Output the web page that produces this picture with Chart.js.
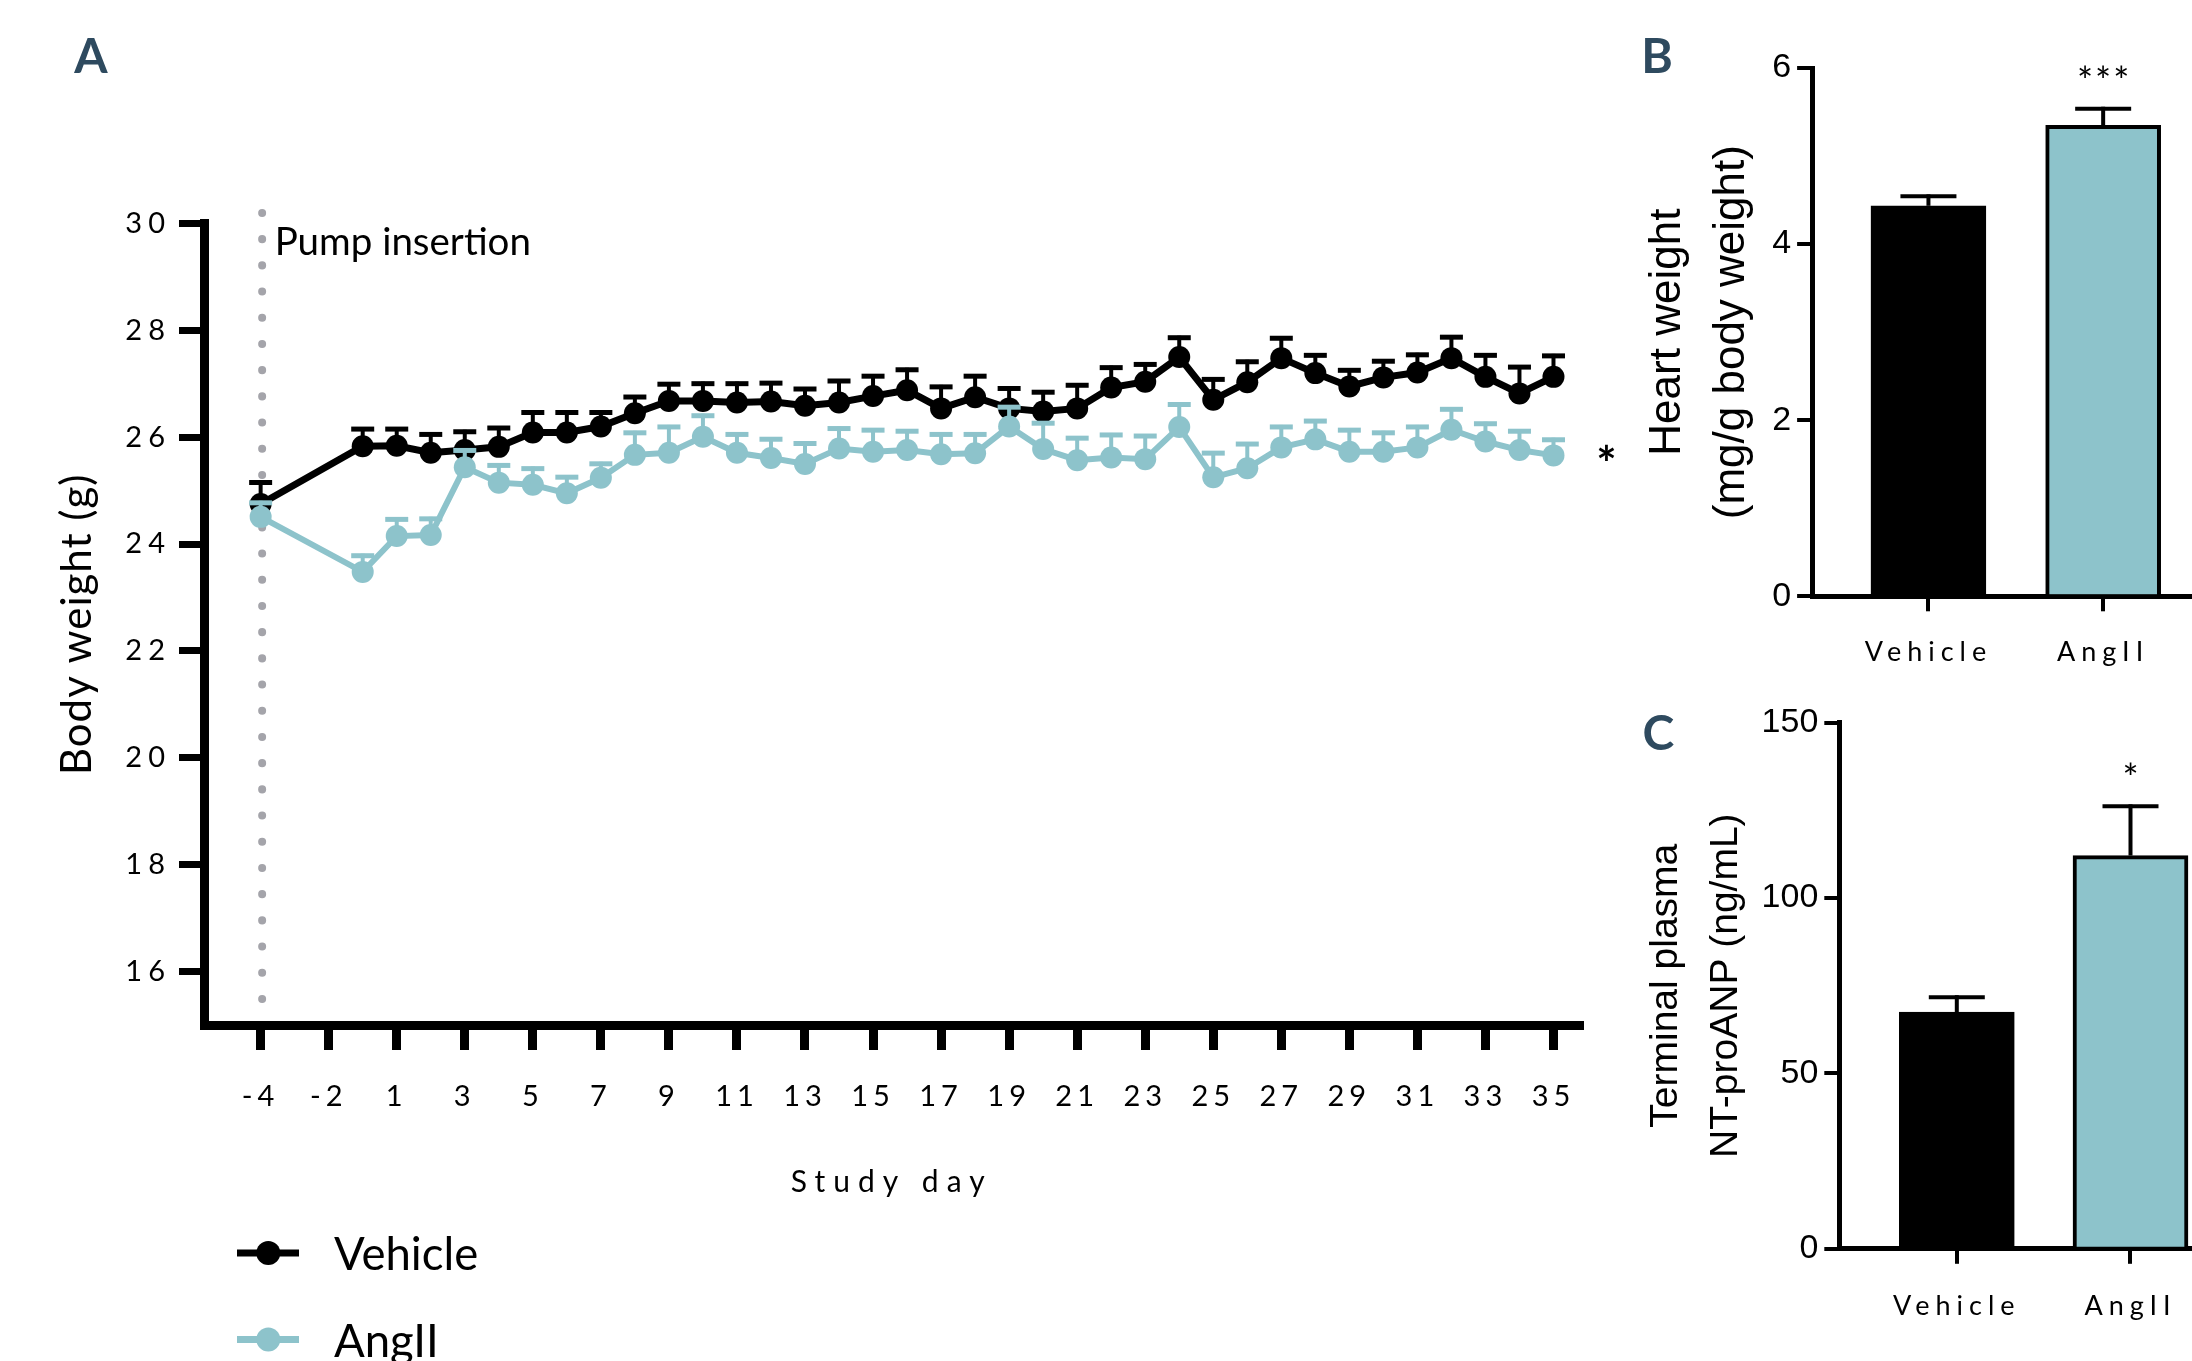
<!DOCTYPE html>
<html>
<head>
<meta charset="utf-8">
<script src="https://cdn.jsdelivr.net/npm/chart.js@4.4.1/dist/chart.umd.min.js"></script>
<style>
  html, body { margin: 0; padding: 0; background: #fff; }
  body { width: 2192px; height: 1361px; overflow: hidden; position: relative; }
  canvas { position: absolute; }
</style>
</head>
<body>
<canvas id="chartA" width="1630" height="1361" style="left:0;top:0"></canvas>
<canvas id="chartB" width="610" height="680" style="left:1630px;top:0"></canvas>
<canvas id="chartC" width="630" height="681" style="left:1630px;top:680px"></canvas>
<script>
// ---------------- DATA ----------------
// Panel A: evenly spaced x-axis slots (as drawn in the figure)
const axisDays = [-4, -3, -2, 0, 1, 2, 3, 4, 5, 6, 7, 8, 9, 10, 11, 12, 13, 14, 15, 16, 17,
  18, 19, 20, 21, 22, 23, 24, 25, 26, 27, 28, 29, 30, 31, 32, 33, 34, 35];
const xTickDays = [-4, -2, 1, 3, 5, 7, 9, 11, 13, 15, 17, 19, 21, 23, 25, 27, 29, 31, 33, 35];
const yTicksA = [16, 18, 20, 22, 24, 26, 28, 30];
const studyDays = [-4, 0, 1, 2, 3, 4, 5, 6, 7, 8, 9, 10, 11, 12, 13, 14, 15, 16, 17, 18, 19,
  20, 21, 22, 23, 24, 25, 26, 27, 28, 29, 30, 31, 32, 33, 34, 35];
const vehicleMean = [24.75, 25.83, 25.84, 25.71, 25.76, 25.82, 26.09, 26.09, 26.20, 26.45, 26.68,
  26.68, 26.65, 26.67, 26.59, 26.65, 26.77, 26.88, 26.54, 26.75, 26.54, 26.48, 26.54, 26.93, 27.04,
  27.50, 26.70, 27.03, 27.48, 27.20, 26.95, 27.12, 27.21, 27.48, 27.13, 26.82, 27.13];
const vehicleSEM = [0.44, 0.36, 0.35, 0.38, 0.38, 0.39, 0.41, 0.41, 0.30, 0.34, 0.35, 0.36, 0.39,
  0.38, 0.35, 0.44, 0.41, 0.42, 0.44, 0.43, 0.41, 0.40, 0.47, 0.41, 0.36, 0.40, 0.42, 0.42, 0.41,
  0.37, 0.34, 0.34, 0.37, 0.43, 0.44, 0.53, 0.43];
const angMean = [24.51, 23.48, 24.15, 24.17, 25.44, 25.15, 25.11, 24.95, 25.24, 25.67, 25.71,
  26.01, 25.71, 25.61, 25.50, 25.79, 25.73, 25.76, 25.68, 25.70, 26.20, 25.78, 25.57, 25.62, 25.59,
  26.19, 25.25, 25.42, 25.81, 25.96, 25.73, 25.73, 25.81, 26.14, 25.92, 25.76, 25.66];
const angSEM = [0.30, 0.34, 0.35, 0.34, 0.35, 0.36, 0.34, 0.34, 0.30, 0.45, 0.52, 0.43, 0.38, 0.39,
  0.42, 0.41, 0.44, 0.39, 0.41, 0.39, 0.40, 0.52, 0.45, 0.46, 0.47, 0.46, 0.49, 0.49, 0.42, 0.38,
  0.44, 0.39, 0.42, 0.42, 0.37, 0.39, 0.33];
const pumpDay = -4;
const seriesNames = ['Vehicle', 'AngII'];

// Panel B: heart weight
const groups = ['Vehicle', 'AngII'];
const heartMean = [4.435, 5.35];
const heartSEM = [0.13, 0.21];
const heartSig = ['', '***'];
const yTicksB = [0, 2, 4, 6];

// Panel C: NT-proANP
const anpMean = [67.5, 112.1];
const anpSEM = [4.8, 14.6];
const anpSig = ['', '*'];
const yTicksC = [0, 50, 100, 150];

// ---------------- STYLE ----------------
const BLACK = '#000000';
const TEAL = '#8dc3cb';
const LETTER = '#2e4a5f';
const SANS = 'Lato';
const ARIAL = '"Liberation Sans", Arial';

Chart.defaults.animation = false;
Chart.defaults.responsive = false;
Chart.defaults.devicePixelRatio = 1;
Chart.defaults.color = '#000';
Chart.defaults.plugins.legend.display = false;
Chart.defaults.plugins.tooltip.enabled = false;

// letter spacing for tick labels / titles per scale
const spacingPlugin = {
  id: 'spacing',
  beforeDraw(chart, args, opts) {
    for (const sc of Object.values(chart.scales)) {
      if (sc.__sp) continue;
      sc.__sp = true;
      const cfg = opts[sc.id] || {};
      const L = sc.drawLabels, T = sc.drawTitle;
      sc.drawLabels = function (a) { const c = this.ctx; c.save(); c.letterSpacing = (cfg.ticks || 0) + 'px'; L.call(this, a); c.restore(); };
      sc.drawTitle = function () { const c = this.ctx; c.save(); c.letterSpacing = (cfg.title || 0) + 'px'; T.call(this); c.restore(); };
    }
  }
};

function panelLetter(ctx, txt, x, y) {
  ctx.save();
  ctx.font = 'bold 48px ' + SANS;
  ctx.fillStyle = LETTER;
  ctx.textAlign = 'center';
  ctx.textBaseline = 'middle';
  ctx.fillText(txt, x, y);
  ctx.restore();
}

// ---------------- PANEL A ----------------
const slotOf = d => axisDays.indexOf(d);
const panelAPlugin = {
  id: 'panelA',
  beforeDatasetsDraw(chart) {
    const {ctx, scales: {x, y}} = chart;
    const px = x.getPixelForValue(slotOf(pumpDay)) + 1.5;
    ctx.save();
    ctx.strokeStyle = '#a4a4aa';
    ctx.lineWidth = 8;
    ctx.lineCap = 'round';
    ctx.setLineDash([0.1, 26.1]);
    ctx.beginPath();
    ctx.moveTo(px, 999);
    ctx.lineTo(px, 212);
    ctx.stroke();
    ctx.restore();
  },
  beforeDatasetDraw(chart, args) {
    const {ctx, scales: {x, y}} = chart;
    const ds = chart.data.datasets[args.index];
    ctx.save();
    ctx.strokeStyle = ds.borderColor;
    ds.data.forEach((p, i) => {
      const cx = x.getPixelForValue(p.x);
      const y0 = y.getPixelForValue(p.y);
      const y1 = y.getPixelForValue(p.y + ds.sem[i]);
      ctx.lineWidth = 4;
      ctx.beginPath(); ctx.moveTo(cx, y0); ctx.lineTo(cx, y1 ); ctx.stroke();
      ctx.lineWidth = 5;
      ctx.beginPath(); ctx.moveTo(cx - 11.5, y1 + 2); ctx.lineTo(cx + 11.5, y1 + 2); ctx.stroke();
    });
    ctx.restore();
  },
  afterDraw(chart) {
    const {ctx, scales: {x, y}} = chart;
    ctx.save();
    // pump insertion label
    ctx.font = '38.5px ' + SANS;
    ctx.fillStyle = '#000';
    ctx.textBaseline = 'alphabetic';
    ctx.fillText('Pump insertion', x.getPixelForValue(slotOf(pumpDay)) + 14, 255);
    // significance star
    const last = chart.data.datasets[1].data[chart.data.datasets[1].data.length - 1];
    ctx.font = 'bold 48px ' + SANS;
    ctx.textAlign = 'center';
    ctx.fillText('*', x.getPixelForValue(last.x) + 53, y.getPixelForValue(last.y) + 26);
    // legend
    chart.data.datasets.forEach((ds, i) => {
      const ly = 1253 + i * 86.5;
      ctx.strokeStyle = ds.borderColor;
      ctx.lineWidth = 7;
      ctx.beginPath(); ctx.moveTo(237, ly); ctx.lineTo(299, ly); ctx.stroke();
      ctx.fillStyle = ds.borderColor;
      ctx.beginPath(); ctx.arc(268.3, ly, 12, 0, Math.PI * 2); ctx.fill();
      ctx.fillStyle = '#000';
      ctx.font = '45.5px ' + SANS;
      ctx.textAlign = 'left';
      ctx.fillText(ds.label, 334, ly + 17);
    });
    ctx.restore();
    panelLetter(ctx, 'A', 91, 58);
  }
};

function seriesData(mean) {
  return studyDays.map((d, i) => ({x: slotOf(d), y: mean[i]}));
}

new Chart(document.getElementById('chartA'), {
  type: 'line',
  data: {
    datasets: [
      {label: seriesNames[0], data: seriesData(vehicleMean), sem: vehicleSEM, borderColor: BLACK,
       backgroundColor: BLACK, borderWidth: 7, pointRadius: 11, pointBorderWidth: 0,
       pointBackgroundColor: BLACK, tension: 0, order: 1, clip: false},
      {label: seriesNames[1], data: seriesData(angMean), sem: angSEM, borderColor: TEAL,
       backgroundColor: TEAL, borderWidth: 6, pointRadius: 11, pointBorderWidth: 0,
       pointBackgroundColor: TEAL, tension: 0, order: 0, clip: false}
    ]
  },
  options: {
    layout: {padding: {left: 0, top: 223.5, right: 1630 - 1579, bottom: 0}},
    scales: {
      x: {
        type: 'linear', min: -1.65, max: 38.75,
        afterBuildTicks: s => { s.ticks = xTickDays.map(d => ({value: slotOf(d)})); },
        afterFit: s => { s.height = 1361 - 1025; },
        ticks: {
          autoSkip: false, maxRotation: 0, minRotation: 0, padding: 29,
          font: {family: SANS, size: 29},
          callback: v => String(axisDays[Math.round(v)])
        },
        grid: {drawOnChartArea: false, drawTicks: true, tickLength: 25, lineWidth: 9, color: BLACK},
        border: {display: true, width: 9, color: BLACK},
        title: {display: true, text: 'Study day', font: {family: SANS, size: 30},
                padding: {top: 0, bottom: 161}}
      },
      y: {
        type: 'linear', min: 15, max: 30,
        afterBuildTicks: s => { s.ticks = yTicksA.map(v => ({value: v})); },
        afterFit: s => { s.width = 204.5; },
        ticks: {padding: 8, font: {family: SANS, size: 29}},
        grid: {drawOnChartArea: false, drawTicks: true, tickLength: 25.5, lineWidth: 7, color: BLACK},
        border: {display: true, width: 9, color: BLACK},
        title: {display: true, text: 'Body weight (g)', font: {family: SANS, size: 42},
                padding: {top: 52, bottom: 0}}
      }
    },
    plugins: {spacing: {x: {ticks: 5, title: 8}, y: {ticks: 6, title: 1}}}
  },
  plugins: [spacingPlugin, panelAPlugin]
});

// ---------------- PANELS B & C ----------------
function barPlugin(letter, letterX, letterY, sig) {
  return {
    id: 'bars' + letter,
    afterDatasetsDraw(chart) {
      const {ctx, scales: {x, y}} = chart;
      const ds = chart.data.datasets[0];
      ctx.save();
      ctx.strokeStyle = '#000';
      ds.data.forEach((p, i) => {
        const cx = x.getPixelForValue(p.x);
        const y0 = y.getPixelForValue(p.y);
        const y1 = y.getPixelForValue(p.y + ds.sem[i]);
        ctx.lineWidth = 4;
        ctx.beginPath(); ctx.moveTo(cx, y0); ctx.lineTo(cx, y1); ctx.stroke();
        ctx.beginPath(); ctx.moveTo(cx - 28, y1 + 2); ctx.lineTo(cx + 28, y1 + 2); ctx.stroke();
        if (sig[i]) {
          ctx.font = '38px ' + SANS;
          ctx.fillStyle = '#000';
          ctx.textAlign = 'center';
          ctx.textBaseline = 'alphabetic';
          ctx.letterSpacing = '2px';
          ctx.fillText(sig[i], cx + 1, y1 - 12);
          ctx.letterSpacing = '0px';
        }
      });
      ctx.restore();
      panelLetter(ctx, letter, letterX, letterY);
    }
  };
}

function makeBar(id, o) {
  new Chart(document.getElementById(id), {
    type: 'bar',
    data: {
      datasets: [{
        data: groups.map((g, i) => ({x: i, y: o.mean[i]})),
        sem: o.sem,
        backgroundColor: [BLACK, TEAL],
        borderColor: BLACK,
        borderWidth: 4,
        borderSkipped: 'start',
        barThickness: 115
      }]
    },
    options: {
      layout: {padding: {left: 0, top: o.top, right: o.right, bottom: 0}},
      scales: {
        x: {
          type: 'linear', min: o.xmin, max: 1 - o.xmin, offset: false,
          afterBuildTicks: s => { s.ticks = groups.map((g, i) => ({value: i})); },
          afterFit: s => { s.height = o.xh; },
          ticks: {autoSkip: false, maxRotation: 0, padding: o.xpad,
                  font: {family: SANS, size: 27}, callback: v => groups[Math.round(v)]},
          grid: {offset: false, drawOnChartArea: false, drawTicks: true, tickLength: 15, lineWidth: 4, color: BLACK},
          border: {display: true, width: 5, color: BLACK}
        },
        y: {
          type: 'linear', min: 0, max: o.ymax,
          afterBuildTicks: s => { s.ticks = o.yticks.map(v => ({value: v})); },
          afterFit: s => { s.width = o.left; },
          ticks: {padding: 6, font: {family: ARIAL, size: 34}},
          grid: {offset: false, drawOnChartArea: false, drawTicks: true, tickLength: 15.5, lineWidth: 4, color: BLACK},
          border: {display: true, width: 5, color: BLACK},
          title: {display: true, text: o.title, font: {family: ARIAL, size: o.tsize, lineHeight: o.tlh},
                  padding: {top: o.tpad, bottom: 0}}
        }
      },
      plugins: {spacing: {x: {ticks: 6}}}
    },
    plugins: [spacingPlugin, barPlugin(o.letter, o.lx, o.ly, o.sig)]
  });
}

makeBar('chartB', {
  mean: heartMean, sem: heartSEM, sig: heartSig, yticks: yTicksB, ymax: 6,
  top: 68, right: 610 - 589, left: 182.6, xmin: -0.663, xh: 680 - 596.3, xpad: 25,
  title: ['Heart weight', '(mg/g body weight)'], tsize: 44, tlh: 64 / 44, tpad: 6,
  letter: 'B', lx: 27, ly: 58
});

makeBar('chartC', {
  mean: anpMean, sem: anpSEM, sig: anpSig, yticks: yTicksC, ymax: 150,
  top: 42.6, right: 630 - 617.5, left: 209.8, xmin: -0.6736, xh: 681 - 568.8, xpad: 26,
  title: ['Terminal plasma', 'NT-proANP (ng/mL)'], tsize: 39, tlh: 60.5 / 39, tpad: 5.5,
  letter: 'C', lx: 28.5, ly: 55
});
</script>
</body>
</html>
